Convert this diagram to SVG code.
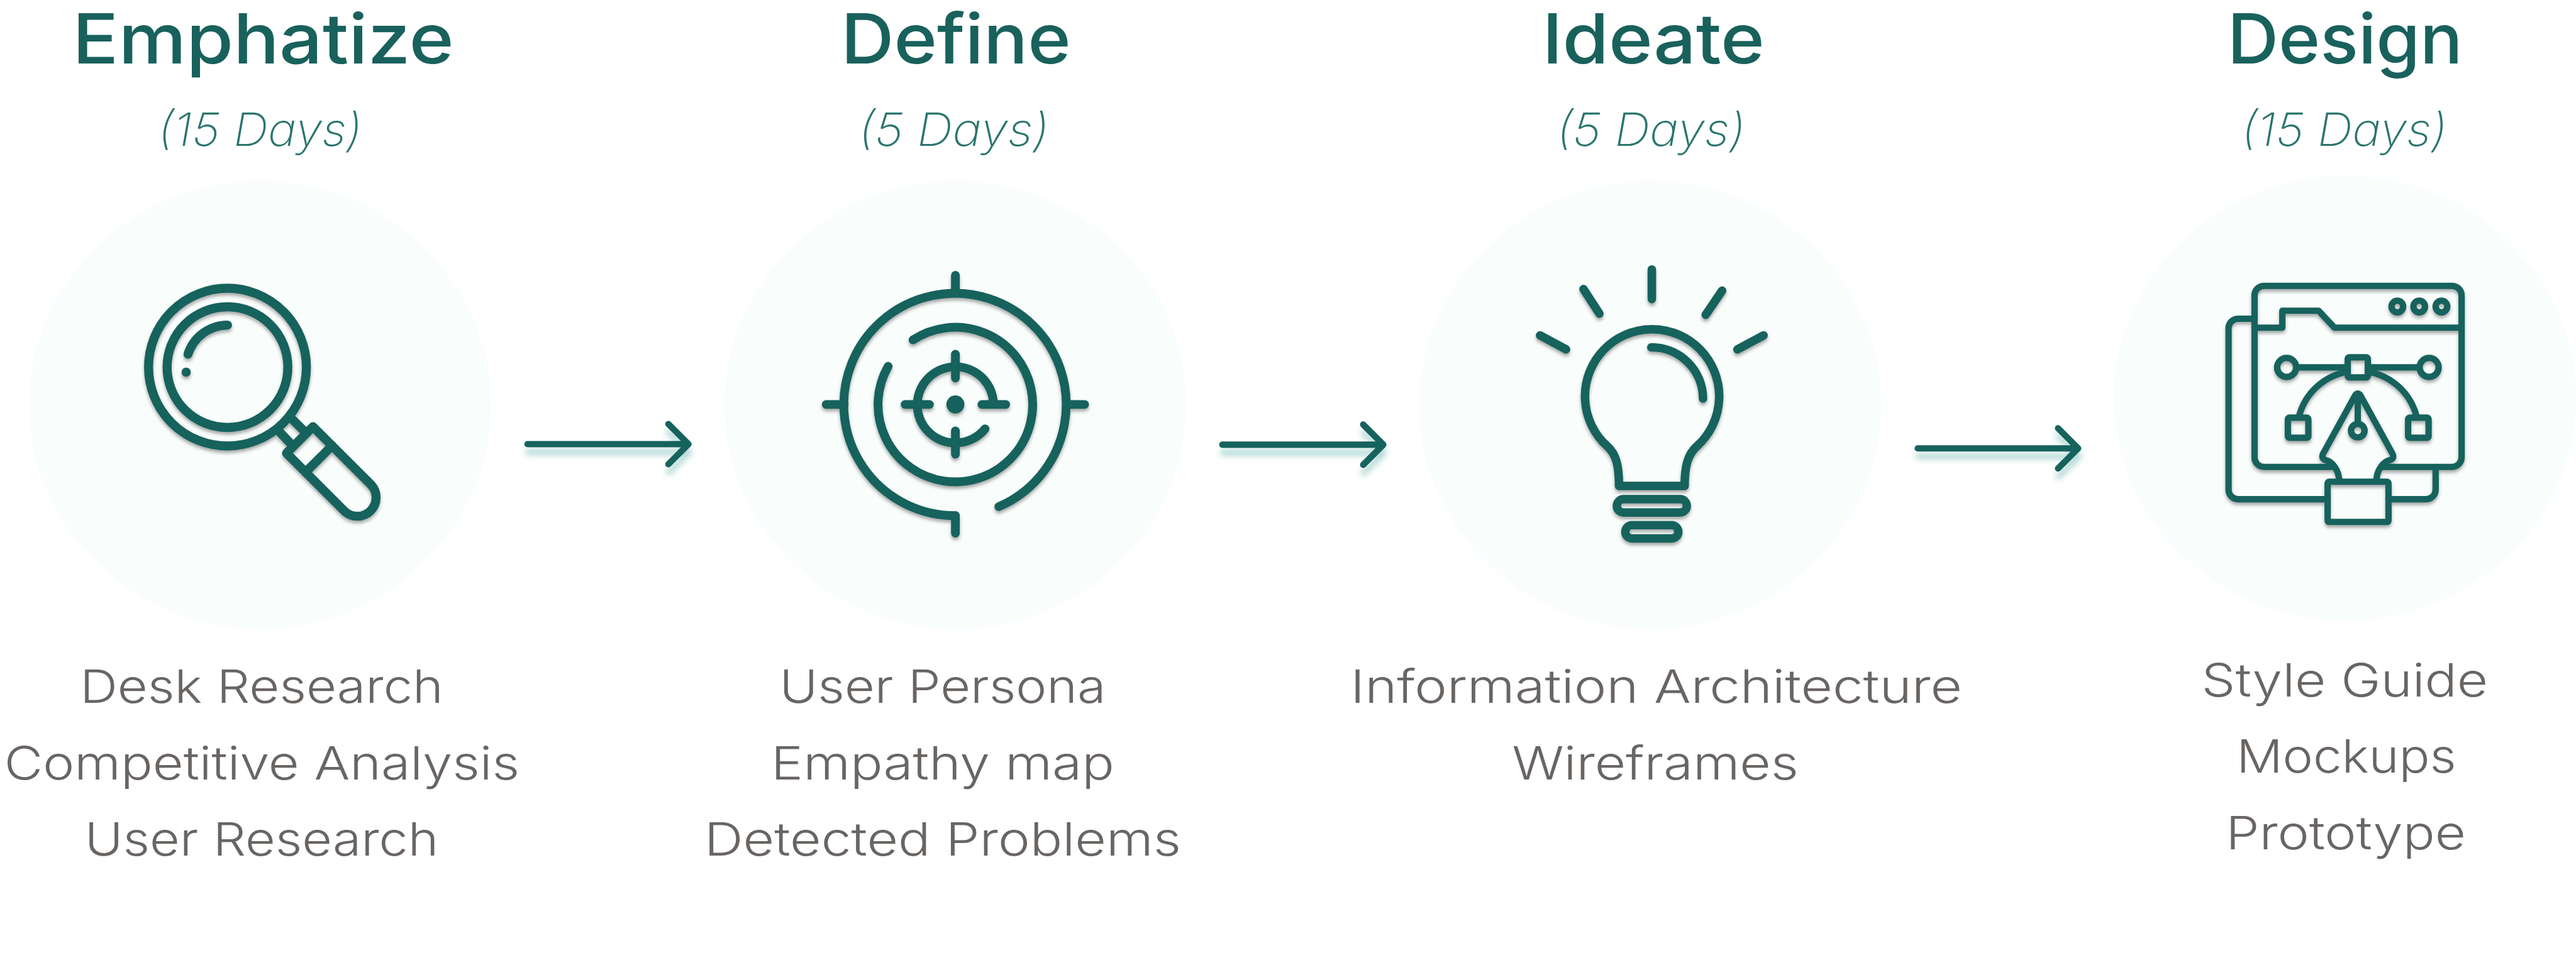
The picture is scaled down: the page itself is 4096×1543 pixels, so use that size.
<svg xmlns="http://www.w3.org/2000/svg" width="4096" height="1543" viewBox="0 0 4096 1543">
<style>
text{font-family:"Inter","Liberation Sans",sans-serif}
.h{font-size:131px;font-weight:500;fill:#19615c}
.d{font-size:87px;font-weight:200;font-style:italic;fill:#2a756d}
.b{font-size:87px;font-weight:300;fill:#696563}
.bg{fill:#f9fdfc}
.i{fill:none;stroke:#19625d;stroke-linecap:round;stroke-linejoin:round}
.f{fill:#19625d;stroke:none}
.a{fill:none;stroke:#19625d;stroke-width:12;stroke-linecap:round;stroke-linejoin:round;filter:url(#as)}
</style>
<defs>
<filter id="is" x="-10%" y="-10%" width="120%" height="125%"><feDropShadow dx="0" dy="5" stdDeviation="3" flood-color="#333" flood-opacity=".4"/></filter>
<filter id="as" x="-10%" y="-60%" width="120%" height="260%"><feDropShadow dx="1" dy="15" stdDeviation="6" flood-color="#5aaea8" flood-opacity=".45"/></filter>
</defs>
<rect width="4096" height="1543" fill="#fff"/>
<g transform="scale(0.8421)">
<g id="node-emphatize">
<ellipse class="bg" cx="491" cy="765" rx="436" ry="423"/>
<g class="i" stroke-width="17" filter="url(#is)">
<circle cx="429.5" cy="693.5" r="149"/>
<circle cx="429.5" cy="693.5" r="114"/>
<path d="M429.6,614A79,79 0 0 0 355,669"/>
<circle class="f" cx="351.5" cy="703" r="8.7"/>
<path d="M552,792L572,812M528,816L547,836"/>
<path d="M591,806L701,916A35.4,35.4 0 0 1 651,966L541,856Z"/>
<path d="M627,842L577,892"/>
</g>
<text class="h" x="137" y="120" textLength="720" lengthAdjust="spacingAndGlyphs">Emphatize</text>
<text class="d" x="298" y="276" textLength="386" lengthAdjust="spacingAndGlyphs">(15 Days)</text>
<text class="b" x="151" y="1328" textLength="686" lengthAdjust="spacingAndGlyphs">Desk Research</text>
<text class="b" x="8" y="1472" textLength="973" lengthAdjust="spacingAndGlyphs">Competitive Analysis</text>
<text class="b" x="160" y="1616" textLength="668" lengthAdjust="spacingAndGlyphs">User Research</text>
</g>
<g id="node-define">
<ellipse class="bg" cx="1804" cy="765" rx="436" ry="423"/>
<g class="i" stroke-width="16.5" filter="url(#is)">
<path d="M1804,974A210,210 0 1 1 1886,957"/>
<path d="M1804,974V1007M1804,520V554M1560,764H1594M2014,764H2048"/>
<path d="M1724,642A146,146 0 1 1 1677,692"/>
<path d="M1876,764A72,72 0 1 0 1860,810"/>
<path d="M1804,669V714M1804,814V858M1709,764H1755M1854,764H1899"/>
<circle class="f" cx="1804" cy="764" r="17"/>
</g>
<text class="h" x="1588" y="120" textLength="434" lengthAdjust="spacingAndGlyphs">Define</text>
<text class="d" x="1621" y="276" textLength="360" lengthAdjust="spacingAndGlyphs">(5 Days)</text>
<text class="b" x="1472" y="1328" textLength="616" lengthAdjust="spacingAndGlyphs">User Persona</text>
<text class="b" x="1456" y="1472" textLength="648" lengthAdjust="spacingAndGlyphs">Empathy map</text>
<text class="b" x="1330" y="1616" textLength="900" lengthAdjust="spacingAndGlyphs">Detected Problems</text>
</g>
<g id="node-ideate">
<ellipse class="bg" cx="3116" cy="765" rx="436" ry="423"/>
<g class="i" stroke-width="16" filter="url(#is)">
<path d="M3057,918C3057,880 3052,858 3035,843A126.7,126.7 0 1 1 3204,843C3187,858 3181,880 3181,918Z"/>
<path d="M3118,656A97,97 0 0 1 3215.6,753"/>
<path d="M3119,509V565M2990,546L3020,592.5M3251.7,549L3220.7,594.7M2908,633.6L2957,660M3330,633.6L3280.7,660"/>
<rect x="3053" y="943" width="132" height="25" rx="12.5"/>
<rect x="3069" y="992" width="100" height="25" rx="12.5"/>
</g>
<text class="h" x="2912" y="120" textLength="420" lengthAdjust="spacingAndGlyphs">Ideate</text>
<text class="d" x="2939" y="276" textLength="357" lengthAdjust="spacingAndGlyphs">(5 Days)</text>
<text class="b" x="2550" y="1328" textLength="1155" lengthAdjust="spacingAndGlyphs">Information Architecture</text>
<text class="b" x="2855" y="1472" textLength="541" lengthAdjust="spacingAndGlyphs">Wireframes</text>
</g>
<g id="node-design">
<ellipse class="bg" cx="4428" cy="752" rx="436" ry="420"/>
<g class="i" stroke-width="12" filter="url(#is)">
<path d="M4405,882H4275A18,18 0 0 1 4257,864V558A18,18 0 0 1 4275,540H4630A18,18 0 0 1 4648,558V864A18,18 0 0 1 4630,882H4499"/>
<path d="M4257,602H4226A18,18 0 0 0 4208,620V925A18,18 0 0 0 4226,943H4395M4510,943H4581A18,18 0 0 0 4599,925V882"/>
<path d="M4257,619H4309.5V587H4378L4408,619H4648"/>
<circle cx="4526.7" cy="579" r="11"/><circle cx="4568" cy="579" r="11"/><circle cx="4610" cy="579" r="11"/>
<circle cx="4317.7" cy="694" r="18"/><circle cx="4586.7" cy="694" r="18"/>
<path d="M4336,694H4433M4471,694H4568"/>
<rect x="4433" y="675" width="38" height="38" rx="3"/>
<path d="M4342,783A115,115 0 0 1 4433,702M4562,783A115,115 0 0 0 4471,702"/>
<rect x="4320" y="789" width="38.7" height="38" rx="3"/>
<rect x="4547" y="789" width="38.7" height="38" rx="3"/>
<path d="M4417,910C4417,888 4404,872 4391,869C4384,867 4384,861 4387,856L4447,747Q4452,740 4457,747L4517,856C4520,861 4520,867 4513,869C4500,872 4487,888 4487,910"/>
<path d="M4452,750V800"/>
<circle cx="4452" cy="813.4" r="12.8"/>
<rect x="4395" y="910" width="115" height="76" rx="3"/>
</g>
<text class="h" x="4206" y="120" textLength="444" lengthAdjust="spacingAndGlyphs">Design</text>
<text class="d" x="4232" y="276" textLength="389" lengthAdjust="spacingAndGlyphs">(15 Days)</text>
<text class="b" x="4157" y="1316" textLength="541" lengthAdjust="spacingAndGlyphs">Style Guide</text>
<text class="b" x="4223" y="1460" textLength="415" lengthAdjust="spacingAndGlyphs">Mockups</text>
<text class="b" x="4203" y="1604" textLength="453" lengthAdjust="spacingAndGlyphs">Prototype</text>
</g>
<g id="connectors">
<path class="a" d="M996,839H1300M1262,801L1300,839L1262,877"/>
<path class="a" d="M2308,840H2612M2574,802L2612,840L2574,878"/>
<path class="a" d="M3621,847H3924M3886,809L3924,847L3886,885"/>
</g>
</g>
</svg>
